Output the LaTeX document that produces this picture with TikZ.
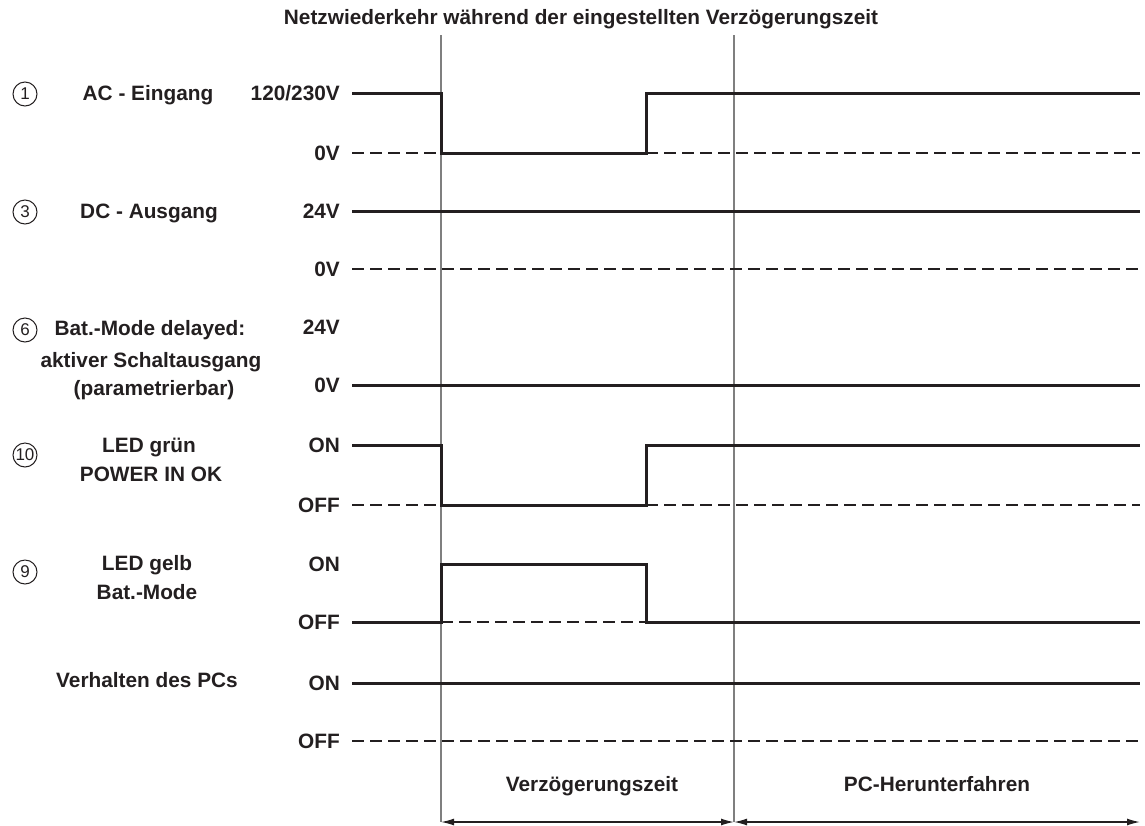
\documentclass[tikz,border=0pt]{standalone}
\usepackage{fontspec}
\setmainfont{Liberation Sans}
\usetikzlibrary{arrows.meta}
\definecolor{ink}{HTML}{231F20}
\definecolor{guide}{HTML}{7F7F7F}
\begin{document}
\begin{tikzpicture}[x=1pt,y=-1pt,
  lbl/.style={font=\fontsize{20.8}{25}\selectfont\bfseries, text=ink, inner sep=0pt, anchor=base},
  lvl/.style={lbl, anchor=base east},
  sig/.style={draw=ink, line width=3pt, line join=miter},
  refline/.style={draw=ink, line width=1.8pt, dash pattern=on 12pt off 6pt},
  guideline/.style={draw=guide, line width=1.3pt},
  num/.style={circle, draw=ink, line width=1pt, minimum size=24pt, inner sep=0pt, font=\fontsize{17}{17}\selectfont, text=ink},
  span/.style={draw=ink, line width=1.4pt, {Latex[length=13pt,width=7pt]}-{Latex[length=13pt,width=7pt]}}]
\useasboundingbox (0,0) rectangle (1145,825);

% title
\node[lbl] (title) at (581,24) {Netzwiederkehr während der eingestellten Verzögerungszeit};

% time markers
\coordinate (t1top) at (441,35);
\coordinate (t1bot) at (441,822);
\coordinate (t2top) at (734,35);
\coordinate (t2bot) at (734,822);
\coordinate (tend) at (1140,822);
\draw[guideline] (t1top) -- (t1bot);
\draw[guideline] (t2top) -- (t2bot);

% reference (dashed) levels
\draw[refline] (352,153) -- (441,153);
\draw[refline] (646,153) -- (1140,153);
\draw[refline] (352,269) -- (1140,269);
\draw[refline] (352,505) -- (441,505);
\draw[refline] (646,505) -- (1140,505);
\draw[refline] (441,622) -- (646,622);
\draw[refline] (352,741) -- (1140,741);

% signals
\draw[sig] (352,93) -- (441,93) -- (441,153) -- (646,153) -- (646,93) -- (1140,93);
\draw[sig] (352,211) -- (1140,211);
\draw[sig] (352,385) -- (1140,385);
\draw[sig] (352,445) -- (441,445) -- (441,505) -- (646,505) -- (646,445) -- (1140,445);
\draw[sig] (352,622) -- (441,622) -- (441,564) -- (646,564) -- (646,622) -- (1140,622);
\draw[sig] (352,683) -- (1140,683);

% level labels
\node[lvl] (l1) at (340,100.5) {120/230V};
\node[lvl] (l2) at (340,160.5) {0V};
\node[lvl] (l3) at (340,218.5) {24V};
\node[lvl] (l4) at (340,276.5) {0V};
\node[lvl] (l5) at (340,334.5) {24V};
\node[lvl] (l6) at (340,392.5) {0V};
\node[lvl] (l7) at (340,452.5) {ON};
\node[lvl] (l8) at (340,512.5) {OFF};
\node[lvl] (l9) at (340,571.5) {ON};
\node[lvl] (l10) at (340,629.5) {OFF};
\node[lvl] (l11) at (340,690.5) {ON};
\node[lvl] (l12) at (340,748.5) {OFF};

% signal names
\node[lbl] (n1) at (148,100.5) {AC - Eingang};
\node[lbl] (n3) at (149,218.5) {DC - Ausgang};
\node[lbl] (n6a) at (150,335.5) {Bat.-Mode delayed:};
\node[lbl] (n6b) at (151,367.5) {aktiver Schaltausgang};
\node[lbl] (n6c) at (154,395.5) {(parametrierbar)};
\node[lbl] (n10a) at (149,452) {LED grün};
\node[lbl] (n10b) at (151,481.5) {POWER IN OK};
\node[lbl] (n9a) at (147,570) {LED gelb};
\node[lbl] (n9b) at (147,599.5) {Bat.-Mode};
\node[lbl] (npc) at (147,687) {Verhalten des PCs};

% circled numbers
\node[num] (c1) at (25,94) {1};
\node[num] (c3) at (25,212) {3};
\node[num] (c6) at (25,330) {6};
\node[num] (c10) at (25,455) {10};
\node[num] (c9) at (25,572) {9};

% phases
\node[lbl] (p1) at (592,791) {Verzögerungszeit};
\node[lbl] (p2) at (937,791) {PC-Herunterfahren};
\draw[span] (t1bot) -- (t2bot);
\draw[span] (t2bot) -- (tend);
\end{tikzpicture}
\end{document}
